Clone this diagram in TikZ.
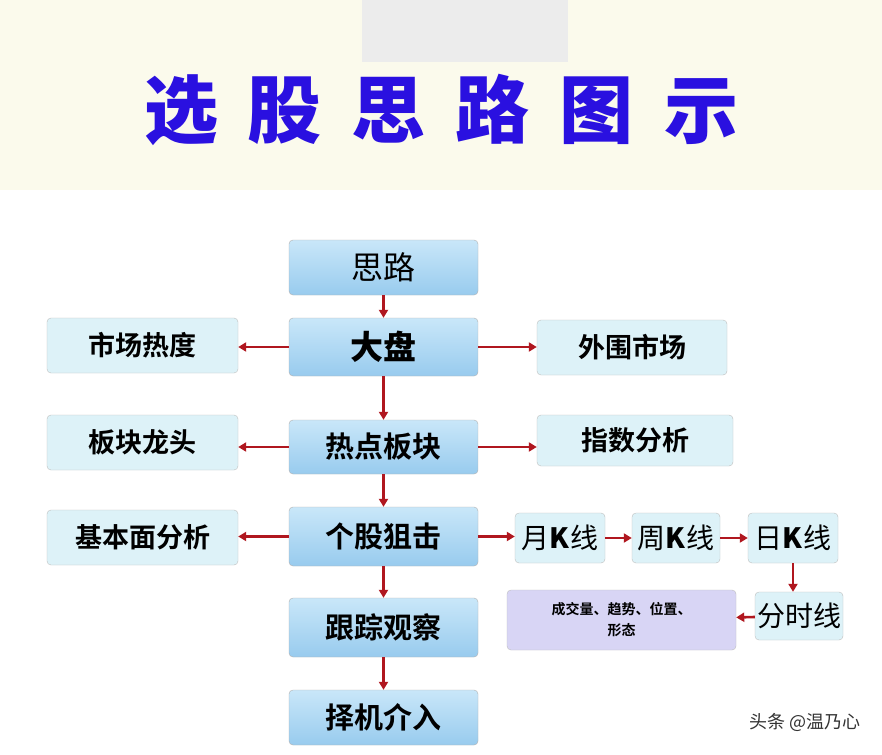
\documentclass[tikz,border=0pt]{standalone}
\usepackage{fontspec}
\setmainfont{Noto Sans CJK SC}
\newfontfamily\titlefont{Noto Sans CJK SC Black}
\newfontfamily\boxfont{Noto Sans CJK SC Bold}
\usetikzlibrary{arrows.meta}
\definecolor{cream}{HTML}{FBFAEC}
\definecolor{arr}{HTML}{B0171F}
\definecolor{ctop}{HTML}{C9E7F9}
\definecolor{cbot}{HTML}{98CBEE}
\definecolor{side}{HTML}{DDF2F8}
\definecolor{lav}{HTML}{D8D5F5}
\definecolor{ttl}{HTML}{2A10E0}
\tikzset{x=1pt,y=-1pt,
 main/.style={draw=gray!60,rounded corners=4pt,top color=ctop,bottom color=cbot,font=\boxfont\fontsize{29}{31}\selectfont,inner sep=0pt},
 sidebox/.style={draw=gray!50,rounded corners=4pt,fill=side,font=\boxfont\fontsize{27}{29}\selectfont,inner sep=0pt},
 kbox/.style={draw=gray!50,rounded corners=4pt,fill=side,font=\fontsize{28}{30}\selectfont,inner sep=0pt},
 ar/.style={draw=arr,line width=2.6pt,-{Triangle[length=8pt,width=9pt]}}}
\begin{document}
\begin{tikzpicture}
\useasboundingbox (0,0) rectangle (882,754);
\fill[cream] (0,0) rectangle (882,190);
\fill[white] (0,190) rectangle (882,754);
\fill[gray!15] (362,0) rectangle (568,62);
\node[text=ttl,font=\titlefont\fontsize{74}{78}\selectfont] (title) at (441,110) {选\hspace{30pt}股\hspace{30pt}思\hspace{30pt}路\hspace{30pt}图\hspace{30pt}示};
% main column
\node[main,minimum width=189,minimum height=55,font=\fontsize{32}{34}\selectfont] (silu) at (383.5,267.5) {思路};
\node[main,minimum width=189,minimum height=58,font=\titlefont\fontsize{33}{35}\selectfont] (dapan) at (383.5,347) {大盘};
\node[main,minimum width=189,minimum height=54] (redian) at (383.5,447) {热点板块};
\node[main,minimum width=189,minimum height=59] (gegu) at (383.5,536.5) {个股狙击};
\node[main,minimum width=189,minimum height=59] (genzong) at (383.5,627.5) {跟踪观察};
\node[main,minimum width=189,minimum height=55] (zeji) at (383.5,717.5) {择机介入};
% left
\node[sidebox,minimum width=191,minimum height=55] (shichang) at (142.5,345.5) {市场热度};
\node[sidebox,minimum width=191,minimum height=55] (bankuai) at (142.5,442.5) {板块龙头};
\node[sidebox,minimum width=191,minimum height=55] (jiben) at (142.5,537.5) {基本面分析};
% right
\node[sidebox,minimum width=190,minimum height=55] (waiwei) at (632,347.5) {外围市场};
\node[sidebox,minimum width=196,minimum height=51] (zhishu) at (635,440.5) {指数分析};
\node[kbox,minimum width=90,minimum height=50] (yue) at (560,538) {月\textbf{K}线};
\node[kbox,minimum width=88,minimum height=50] (zhou) at (676,538) {周\textbf{K}线};
\node[kbox,minimum width=90,minimum height=50] (ri) at (793,538) {日\textbf{K}线};
\node[kbox,minimum width=88,minimum height=48] (fenshi) at (799,616) {分时线};
\node[draw=gray!50,rounded corners=4pt,fill=lav,minimum width=229,minimum height=60,inner sep=0pt,align=center,font=\boxfont\fontsize{14}{21}\selectfont] (cheng) at (621.5,620) {成交量、趋势、位置、\\形态};
% arrows
\draw[ar] (silu) -- (dapan);
\draw[ar] (dapan) -- (redian);
\draw[ar] (redian) -- (gegu);
\draw[ar] (gegu) -- (genzong);
\draw[ar] (genzong) -- (zeji);
\draw[ar] (dapan) -- (dapan.west -| shichang.east);
\draw[ar] (dapan) -- (dapan.east -| waiwei.west);
\draw[ar] (redian.west) -- (redian.west -| bankuai.east);
\draw[ar] (redian.east) -- (redian.east -| zhishu.west);
\draw[ar] (gegu) -- (gegu.west -| jiben.east);
\draw[ar] (gegu) -- (gegu.east -| yue.west);
\draw[ar] (yue) -- (zhou);
\draw[ar] (zhou) -- (ri);
\draw[ar] (ri.south) -- (ri.south |- fenshi.north);
\draw[ar] (fenshi) -- (cheng);
\node[anchor=east,font=\fontsize{18}{20}\selectfont,text=black!80] (wm) at (864,722) {头条 @温乃心};
\end{tikzpicture}
\end{document}
